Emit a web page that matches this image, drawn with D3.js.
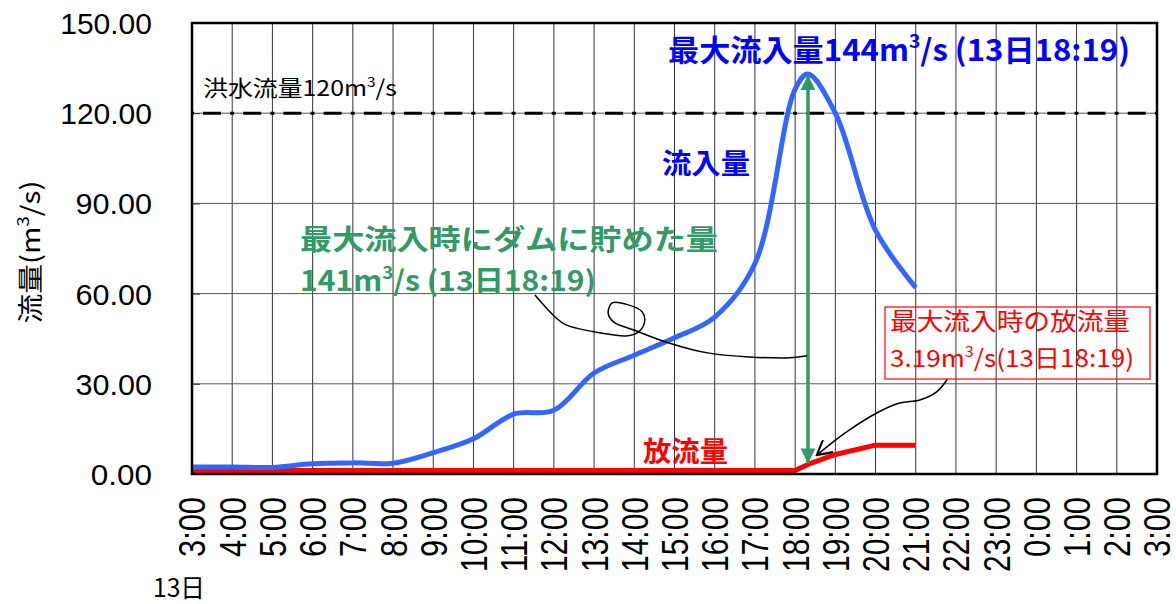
<!DOCTYPE html>
<html>
<head>
<meta charset="utf-8">
<script src="https://cdn.jsdelivr.net/npm/d3@7"></script>
<style>
  body { margin: 0; background: #fff; }
  svg { display: block; }
</style>
</head>
<body>
<div id="chart"></div>
<script>
// hour labels on the x axis (13th 3:00 -> 14th 3:00)
var tickHours = [3, 4, 5, 6, 7, 8, 9, 10, 11, 12, 13, 14, 15, 16, 17, 18, 19, 20, 21, 22, 23, 24, 25, 26, 27];
var tickLabels = ['3:00', '4:00', '5:00', '6:00', '7:00', '8:00', '9:00', '10:00', '11:00', '12:00', '13:00', '14:00',
  '15:00', '16:00', '17:00', '18:00', '19:00', '20:00', '21:00', '22:00', '23:00', '0:00', '1:00', '2:00', '3:00'];
var yTicks = [0, 30, 60, 90, 120, 150];

// inflow (流入量), m3/s
var inflowTime = [3, 4, 5, 6, 7, 8, 9, 10, 11, 12, 13, 14, 15, 16, 17, 18, 18.32, 19, 20, 21];
var inflowValue = [2.3, 2.3, 2.2, 3.4, 3.7, 3.6, 7.1, 11.7, 19.9, 21.2, 33.6, 39.5, 45.3, 52.2, 70, 128, 133, 120, 81, 62];

// outflow (放流量), m3/s
var outflowTime = [3, 4, 5, 6, 7, 8, 9, 10, 11, 12, 13, 14, 15, 16, 17, 18, 18.32, 19, 20, 21];
var outflowValue = [1.2, 1.2, 1.2, 1.2, 1.2, 1.2, 1.2, 1.2, 1.2, 1.2, 1.2, 1.2, 1.2, 1.2, 1.2, 1.2, 3.19, 6.5, 9.6, 9.6];

var floodLevel = 120;
var peakTime = 18.32;

// hand drawn leader lines, [hour, value]
var leaderStore = [[11.53, 59.5], [12.03, 52.2], [12.3, 49.6], [13.17, 46.9], [13.79, 45.9], [14.07, 46.9],
  [14.25, 50.2], [14.2, 53.9], [13.79, 56.5], [13.45, 56.9], [13.35, 53.5], [13.49, 50.5], [13.99, 47.9],
  [14.79, 43.9], [15.86, 40.2], [17.79, 38.6], [18.3, 39.3]];
var leaderOut = [[21.79, 31.6], [21.52, 27.3], [21.1, 24.6], [20.6, 23.6], [20.03, 20.3], [19.28, 14.0], [18.54, 6.3]];

const W = 1176, H = 604;
const pLeft = 192, pRight = 1157, pTop = 23, pBottom = 474;
const jp = '"Noto Sans CJK JP", sans-serif';
const num = '"Liberation Sans", Arial, sans-serif';

var svg = d3.select('#chart').append('svg')
  .attr('width', W).attr('height', H);

svg.append('rect').attr('width', W).attr('height', H).attr('fill', '#fff');

var x = d3.scaleLinear().domain([3, 27]).range([pLeft, pRight]);
var y = d3.scaleLinear().domain([0, 150]).range([pBottom, pTop]);
var hourW = x(4) - x(3);

// grid
svg.append('g').selectAll('line')
  .data(tickHours.slice(1, -1))
  .enter().append('line')
  .attr('x1', d => x(d)).attr('x2', d => x(d))
  .attr('y1', pTop).attr('y2', pBottom)
  .attr('stroke', '#333').attr('stroke-width', 1);

svg.append('g').selectAll('line')
  .data(yTicks.slice(1, -1))
  .enter().append('line')
  .attr('x1', pLeft).attr('x2', pRight)
  .attr('y1', d => y(d)).attr('y2', d => y(d))
  .attr('stroke', '#555').attr('stroke-width', 1);

// flood level line, dots sit on the hour lines
svg.append('line')
  .attr('x1', pLeft).attr('x2', pRight)
  .attr('y1', y(floodLevel)).attr('y2', y(floodLevel))
  .attr('stroke', '#000').attr('stroke-width', 3)
  .attr('stroke-dasharray', [18, (hourW - 22) / 2, 4, (hourW - 22) / 2].join(','))
  .attr('stroke-dashoffset', -11);

// y axis
var yAxis = svg.append('g')
  .attr('transform', 'translate(' + pLeft + ',0)')
  .call(d3.axisLeft(y).tickValues(yTicks).tickFormat(d3.format('.2f')).tickSize(-8).tickPadding(40));
yAxis.select('.domain').remove();
yAxis.selectAll('line').attr('stroke', '#333');
yAxis.selectAll('text')
  .attr('font-family', num)
  .attr('font-size', 29)
  .attr('fill', '#000')
  .attr('dy', '0.36em')
  .attr('textLength', function(d) { return d3.format('.2f')(d).length * 15.3; })
  .attr('lengthAdjust', 'spacingAndGlyphs');

// x axis
var xAxis = svg.append('g')
  .attr('transform', 'translate(0,' + pBottom + ')')
  .call(d3.axisBottom(x).tickValues(tickHours).tickFormat((d, i) => tickLabels[i]).tickSize(0));
xAxis.select('.domain').remove();
xAxis.selectAll('text')
  .attr('font-family', num)
  .attr('font-size', 36)
  .attr('fill', '#000')
  .attr('transform', 'rotate(-90)')
  .attr('text-anchor', 'end')
  .attr('x', -23)
  .attr('y', 0)
  .attr('dy', '0.36em')
  .attr('textLength', (d, i) => tickLabels[i].length * 15)
  .attr('lengthAdjust', 'spacingAndGlyphs');

svg.append('text')
  .attr('x', 153).attr('y', 597)
  .attr('font-family', jp).attr('font-size', 25)
  .attr('textLength', 52).attr('lengthAdjust', 'spacingAndGlyphs')
  .text('13日');

// helper for texts with m3 superscript
function supText(parent, parts, size) {
  var t = parent;
  parts.forEach(function(p, i) {
    if (p === '3') {
      t.append('tspan').attr('font-size', size * 0.62).attr('dy', -size * 0.42).text('3');
    } else {
      var s = t.append('tspan').text(p);
      if (i > 0) s.attr('dy', size * 0.42);
    }
  });
}

// y axis title
var yt = svg.append('text')
  .attr('transform', 'translate(40,252) rotate(-90)')
  .attr('text-anchor', 'middle')
  .attr('font-family', jp).attr('font-size', 26)
  .attr('textLength', 143).attr('lengthAdjust', 'spacingAndGlyphs');
supText(yt, ['流量(m', '3', '/s)'], 26);

// outflow line
var lineOut = d3.line()
  .x((d, i) => x(outflowTime[i]))
  .y(d => y(d));
svg.append('path')
  .attr('d', lineOut(outflowValue))
  .attr('fill', 'none').attr('stroke', '#ff0000').attr('stroke-width', 5)
  .attr('stroke-linejoin', 'round');

// inflow line (smoothed)
var lineIn = d3.line()
  .x((d, i) => x(inflowTime[i]))
  .y(d => y(d))
  .curve(d3.curveCatmullRom.alpha(0.5));
svg.append('path')
  .attr('d', lineIn(inflowValue))
  .attr('fill', 'none').attr('stroke', '#3366ff').attr('stroke-width', 5);

// border
svg.append('rect')
  .attr('x', pLeft).attr('y', pTop)
  .attr('width', pRight - pLeft).attr('height', pBottom - pTop)
  .attr('fill', 'none').attr('stroke', '#000').attr('stroke-width', 2.5);

// markers
var defs = svg.append('defs');
defs.append('marker')
  .attr('id', 'tri').attr('viewBox', '0 0 10 10')
  .attr('refX', 10).attr('refY', 5)
  .attr('markerUnits', 'userSpaceOnUse')
  .attr('markerWidth', 22).attr('markerHeight', 15)
  .attr('orient', 'auto-start-reverse')
  .append('path').attr('d', 'M0,0 L10,5 L0,10 Z').attr('fill', '#339966');
defs.append('marker')
  .attr('id', 'vee').attr('viewBox', '0 0 10 10')
  .attr('refX', 9).attr('refY', 5)
  .attr('markerUnits', 'userSpaceOnUse')
  .attr('markerWidth', 16).attr('markerHeight', 16)
  .attr('orient', 'auto')
  .append('path').attr('d', 'M0,0 L9,5 L0,10').attr('fill', 'none')
  .attr('stroke', '#000').attr('stroke-width', 1.3);

// stored volume arrow
var iPeak = inflowTime.indexOf(peakTime);
svg.append('line')
  .attr('x1', x(peakTime)).attr('x2', x(peakTime))
  .attr('y1', y(inflowValue[iPeak]) + 1).attr('y2', y(outflowValue[iPeak]) - 1)
  .attr('stroke', '#339966').attr('stroke-width', 3.5)
  .attr('marker-start', 'url(#tri)').attr('marker-end', 'url(#tri)');

// leader lines
var leader = d3.line().x(d => x(d[0])).y(d => y(d[1])).curve(d3.curveCatmullRom.alpha(0.5));
svg.append('path')
  .attr('d', leader(leaderStore))
  .attr('fill', 'none').attr('stroke', '#000').attr('stroke-width', 1.5);
svg.append('path')
  .attr('d', leader(leaderOut))
  .attr('fill', 'none').attr('stroke', '#000').attr('stroke-width', 1.5)
  .attr('marker-end', 'url(#vee)');

// annotations
var t1 = svg.append('text')
  .attr('x', 203).attr('y', 96)
  .attr('font-family', jp).attr('font-size', 22).attr('fill', '#000')
  .attr('textLength', 194).attr('lengthAdjust', 'spacingAndGlyphs');
supText(t1, ['洪水流量120m', '3', '/s'], 22);

var t2 = svg.append('text')
  .attr('x', 668).attr('y', 61)
  .attr('font-family', jp).attr('font-size', 30).attr('font-weight', 'bold').attr('fill', '#0000ff')
  .attr('textLength', 462).attr('lengthAdjust', 'spacingAndGlyphs');
supText(t2, ['最大流入量144m', '3', '/s (13日18:19)'], 30);

svg.append('text')
  .attr('x', 662).attr('y', 174)
  .attr('font-family', jp).attr('font-size', 28).attr('font-weight', 'bold').attr('fill', '#0000ff')
  .attr('textLength', 88).attr('lengthAdjust', 'spacingAndGlyphs')
  .text('流入量');

// stored volume label, two lines
var g3 = svg.append('text')
  .attr('font-family', jp).attr('font-size', 28).attr('font-weight', 'bold').attr('fill', '#339966');
g3.append('tspan')
  .attr('x', 300).attr('y', 250)
  .attr('textLength', 418).attr('lengthAdjust', 'spacingAndGlyphs')
  .text('最大流入時にダムに貯めた量');
var l2 = g3.append('tspan')
  .attr('x', 300).attr('y', 291)
  .attr('textLength', 296).attr('lengthAdjust', 'spacingAndGlyphs');
supText(l2, ['141m', '3', '/s (13日18:19)'], 28);

svg.append('text')
  .attr('x', 643).attr('y', 462)
  .attr('font-family', jp).attr('font-size', 28).attr('font-weight', 'bold').attr('fill', '#ff0000')
  .attr('textLength', 85).attr('lengthAdjust', 'spacingAndGlyphs')
  .text('放流量');

// outflow callout box
svg.append('rect')
  .attr('x', 885).attr('y', 307).attr('width', 265).attr('height', 72)
  .attr('fill', 'none').attr('stroke', '#ff0000').attr('stroke-width', 1.2);
svg.append('text')
  .attr('x', 890).attr('y', 330)
  .attr('font-family', jp).attr('font-size', 24).attr('fill', '#ff0000')
  .attr('textLength', 240).attr('lengthAdjust', 'spacingAndGlyphs')
  .text('最大流入時の放流量');
var t4 = svg.append('text')
  .attr('x', 890).attr('y', 367)
  .attr('font-family', jp).attr('font-size', 24).attr('fill', '#ff0000')
  .attr('textLength', 244).attr('lengthAdjust', 'spacingAndGlyphs');
supText(t4, ['3.19m', '3', '/s(13日18:19)'], 24);
</script>
</body>
</html>
